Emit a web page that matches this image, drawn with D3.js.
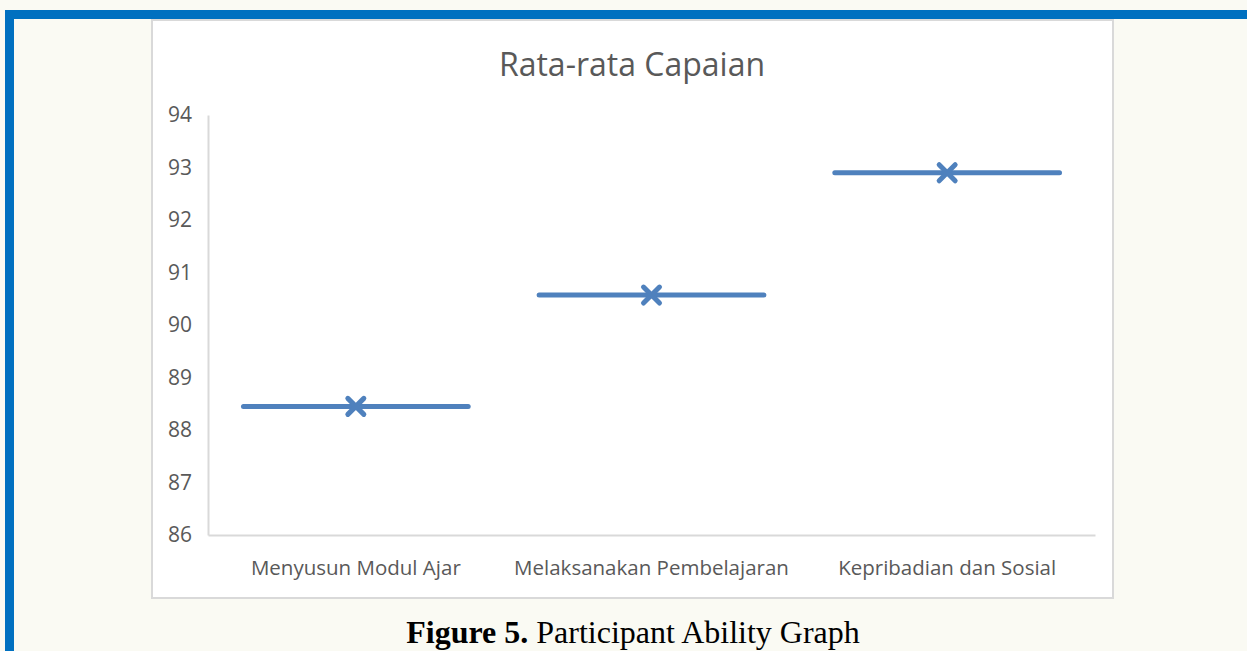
<!DOCTYPE html>
<html>
<head>
<meta charset="utf-8">
<script src="https://cdn.jsdelivr.net/npm/d3@7"></script>
<style>
  html, body { margin: 0; padding: 0; background: #fafaf3; }
  svg { display: block; }
</style>
</head>
<body>
<div id="chart"></div>
<script>
(function(){

const width = 1247;
const height = 651;

// data
const categories = ["Menyusun Modul Ajar", "Melaksanakan Pembelajaran", "Kepribadian dan Sosial"];
const averages = [88.45, 90.57, 92.9];
const yTicks = [86, 87, 88, 89, 90, 91, 92, 93, 94];

const box = {left:152, top:20, right:1113, bottom:598};
const margin = {top:115, right:1095, bottom:535, left:208};

const svg = d3.select("#chart")
  .append("svg")
  .attr("width", width)
  .attr("height", height);

// page frame (blue bars)
svg.append("rect")
  .attr("x", 5).attr("y", 10)
  .attr("width", width - 5).attr("height", 9)
  .attr("fill", "#0070c0");
svg.append("rect")
  .attr("x", 5).attr("y", 10)
  .attr("width", 9).attr("height", height - 10)
  .attr("fill", "#0070c0");

// chart area
svg.append("rect")
  .attr("x", box.left).attr("y", box.top)
  .attr("width", box.right - box.left)
  .attr("height", box.bottom - box.top)
  .attr("fill", "#ffffff")
  .attr("stroke", "#d9d9d9")
  .attr("stroke-width", 2);

// scales
const x = d3.scaleBand()
  .domain(categories)
  .range([margin.left, margin.right]);

const y = d3.scaleLinear()
  .domain([86, 94])
  .range([margin.bottom, margin.top]);

// Y axis
const yAxis = svg.append("g")
  .attr("transform", `translate(${margin.left},0)`)
  .call(d3.axisLeft(y).tickValues(yTicks).tickSize(0).tickPadding(16));
yAxis.select(".domain").attr("stroke", "#d9d9d9").attr("stroke-width", 2);
yAxis.selectAll("text")
  .style("font-family", "'Open Sans', sans-serif")
  .style("font-size", "21px")
  .attr("fill", "#595959");

// X axis
const xAxis = svg.append("g")
  .attr("transform", `translate(0,${margin.bottom})`)
  .call(d3.axisBottom(x).tickSize(0).tickPadding(25));
xAxis.select(".domain").attr("stroke", "#d9d9d9").attr("stroke-width", 2);
xAxis.selectAll("text")
  .style("font-family", "'Open Sans', sans-serif")
  .style("font-size", "20.5px")
  .attr("fill", "#595959");

// title
svg.append("text")
  .attr("x", 632)
  .attr("y", 76)
  .attr("text-anchor", "middle")
  .style("font-family", "'Open Sans', sans-serif")
  .style("font-size", "32px")
  .attr("fill", "#595959")
  .text("Rata-rata Capaian");

// average lines
const color = "#4f81bd";
const halfLen = x.bandwidth() * 0.38;

svg.selectAll(".avg")
  .data(categories)
  .enter()
  .append("line")
  .attr("class", "avg")
  .attr("x1", d => x(d) + x.bandwidth() / 2 - halfLen)
  .attr("x2", d => x(d) + x.bandwidth() / 2 + halfLen)
  .attr("y1", (d, i) => y(averages[i]))
  .attr("y2", (d, i) => y(averages[i]))
  .attr("stroke", color)
  .attr("stroke-width", 5)
  .attr("stroke-linecap", "round");

// x markers
const s = 8;
svg.selectAll(".mark")
  .data(categories)
  .enter()
  .append("path")
  .attr("class", "mark")
  .attr("d", (d, i) => {
    const cx = x(d) + x.bandwidth() / 2;
    const cy = y(averages[i]);
    return `M${cx - s},${cy - s}L${cx + s},${cy + s}M${cx - s},${cy + s}L${cx + s},${cy - s}`;
  })
  .attr("stroke", color)
  .attr("stroke-width", 5)
  .attr("stroke-linecap", "round")
  .attr("fill", "none");

// caption
const cap = svg.append("text")
  .attr("x", 633)
  .attr("y", 643)
  .attr("text-anchor", "middle")
  .style("font-family", "'Liberation Serif', serif")
  .style("font-size", "32px")
  .attr("fill", "#000");
cap.append("tspan").style("font-weight", "bold").text("Figure 5.");
cap.append("tspan").text(" Participant Ability Graph");

})();
</script>
</body>
</html>
